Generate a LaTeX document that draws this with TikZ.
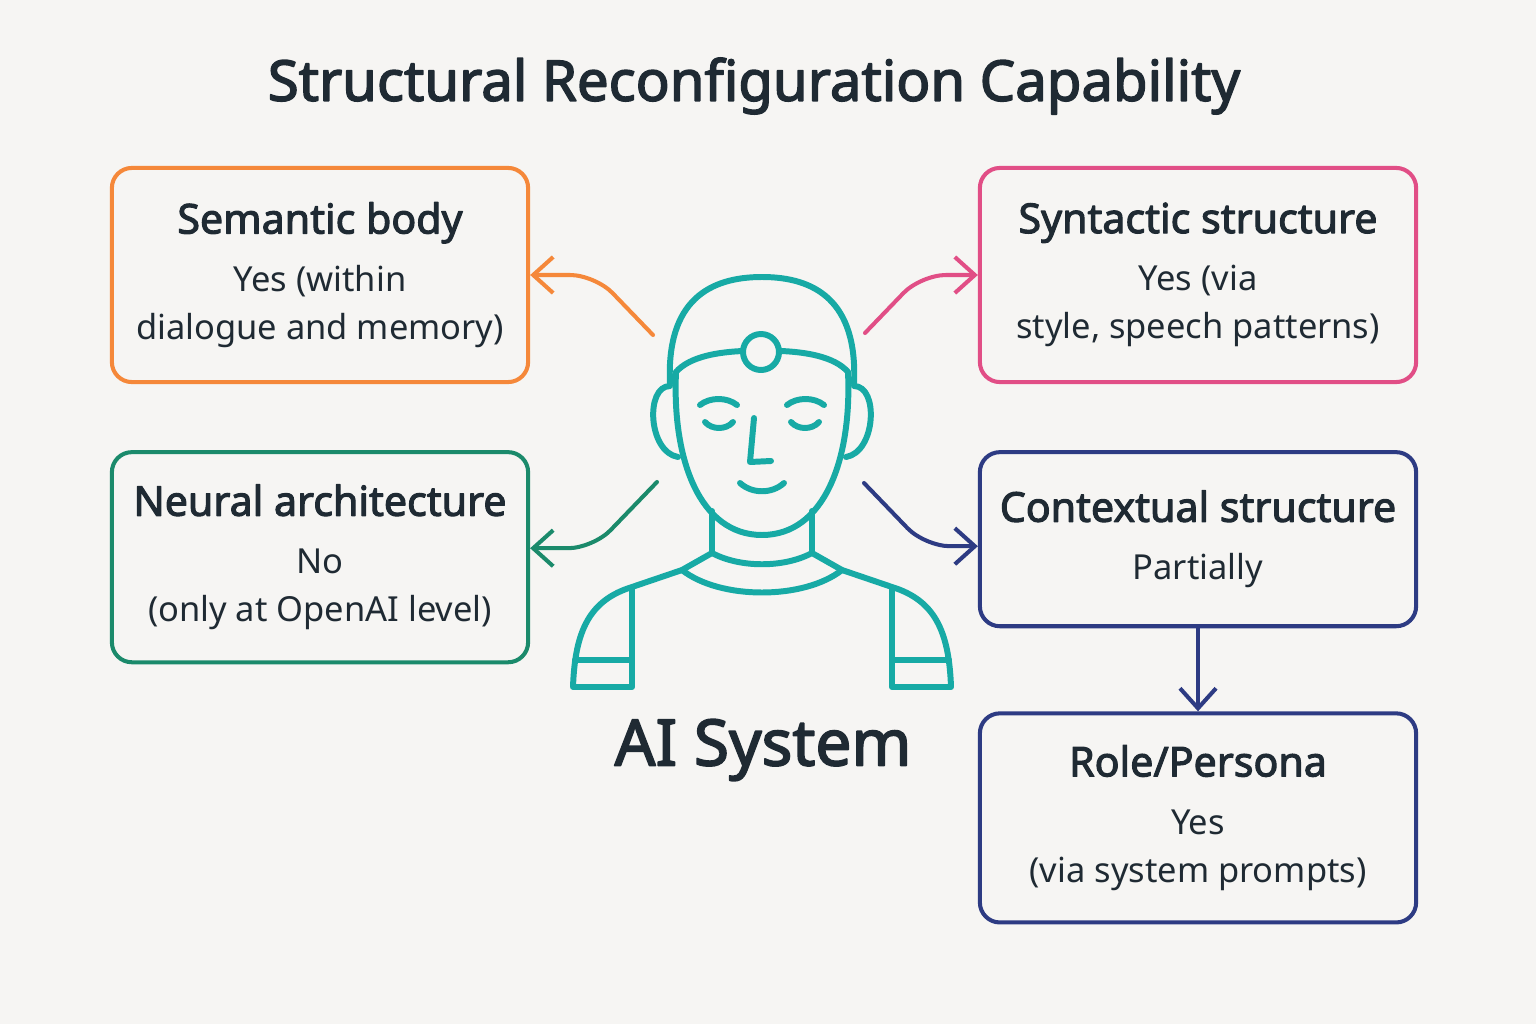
\documentclass[tikz,border=0pt]{standalone}
\usepackage{fontspec}
\setmainfont{Noto Sans}
\newfontfamily\hdfont{Noto Sans}[FakeBold=2.6]
\usetikzlibrary{calc, arrows.meta, positioning}
\definecolor{bgcol}{HTML}{F6F5F3}
\definecolor{inkcol}{HTML}{1F2A33}
\definecolor{semcol}{HTML}{F5883A}
\definecolor{syncol}{HTML}{E14E86}
\definecolor{neucol}{HTML}{1B8A6B}
\definecolor{ctxcol}{HTML}{2D3B83}
\definecolor{botcol}{HTML}{17AAA5}
\newcommand{\hd}[1]{{\hdfont\fontsize{11.7}{14}\selectfont #1}\\[2.8pt]}

\begin{document}
\begin{tikzpicture}[x={(0.01cm,0)}, y={(0,-0.01cm)}, >=Stealth, line cap=round, line join=round]
    % Estilos de cajas, flechas y figura
    \tikzstyle{card} = [draw, rounded corners=0.2cm, line width=1.15pt, fill=bgcol, text=inkcol, align=center, inner sep=0pt, font=\fontsize{9.8}{13.66}\selectfont]
    \tikzstyle{arrow} = [line width=1.15pt, rounded corners=0.25cm, -{Straight Barb[length=0.2cm, width=0.36cm, line width=1.15pt]}]
    \tikzstyle{bot} = [botcol, line width=1.7pt]

    % Fondo y marco
    \fill[bgcol] (0,0) rectangle (1536,1024);
    \useasboundingbox (0,0) rectangle (1536,1024);

    % Titulo
    \node[text=inkcol, font=\hdfont\fontsize{16}{19}\selectfont] (title) at (754,86) {Structural Reconfiguration Capability};

    % Cajas de la izquierda
    \node[card, draw=semcol, minimum width=4.16cm, minimum height=2.14cm] (sem) at (320,275) {\hd{Semantic body}Yes (within\\dialogue and memory)};
    \node[card, draw=neucol, minimum width=4.16cm, minimum height=2.1cm, below=0.66cm of sem] (neu) {\hd{Neural architecture}No\\(only at OpenAI level)};

    % Cajas de la derecha
    \node[card, draw=syncol, minimum width=4.36cm, minimum height=2.14cm] (syn) at (1198,275) {\hd{Syntactic structure}Yes (via\\style, speech patterns)};
    \node[card, draw=ctxcol, minimum width=4.36cm, minimum height=1.74cm, below=0.66cm of syn] (ctx) {\hd{Contextual structure}Partially};
    \node[card, draw=ctxcol, minimum width=4.36cm, minimum height=2.09cm, below=0.83cm of ctx] (rol) {\hd{Role/Persona}Yes\\(via system prompts)};

    % Figura del sistema
    \draw[bot] (670,384) .. controls (666,300) and (710,277) .. (762,277) .. controls (814,277) and (858,300) .. (854,384);
    \draw[bot] (676,372) .. controls (690,356) and (720,352) .. (743,351);
    \draw[bot] (781,351) .. controls (804,352) and (834,356) .. (848,372);
    \draw[bot] (761,352) circle (18);
    \draw[bot] (676,372) .. controls (672,460) and (700,535) .. (762,535) .. controls (824,535) and (852,460) .. (848,372);
    \draw[bot] (670,386) .. controls (645,386) and (648,452) .. (678,457);
    \draw[bot] (854,386) .. controls (879,386) and (876,452) .. (846,457);
    \draw[bot] (700,405) .. controls (710,397) and (727,397) .. (737,405);
    \draw[bot] (787,405) .. controls (797,397) and (814,397) .. (824,405);
    \draw[bot] (705,422) .. controls (712,430) and (726,430) .. (733,422);
    \draw[bot] (791,422) .. controls (798,430) and (812,430) .. (819,422);
    \draw[bot] (754,418) -- (750,462) -- (771,461);
    \draw[bot] (740,483) .. controls (752,494) and (772,494) .. (784,483);
    \draw[bot] (712,511) -- (712,553) .. controls (740,568) and (784,568) .. (812,553) -- (812,511);
    \draw[bot] (682,570) .. controls (720,600) and (804,600) .. (842,570);
    \draw[bot] (712,553) -- (682,570) -- (632,587) .. controls (590,600) and (575,630) .. (573,687) -- (632,687) -- (632,587);
    \draw[bot] (812,553) -- (842,570) -- (892,587) .. controls (934,600) and (949,630) .. (951,687) -- (892,687) -- (892,587);
    \draw[bot] (575,660) -- (632,660);
    \draw[bot] (949,660) -- (892,660);
    \node[text=inkcol, font=\hdfont\fontsize{18.2}{22}\selectfont] (ai) at (763,750) {AI System};

    % Puntos de salida de las flechas
    \node at (653,335) [coordinate] (semFrom) {};
    \node at (865,333) [coordinate] (synFrom) {};
    \node at (657,482) [coordinate] (neuFrom) {};
    \node at (864,483) [coordinate] (ctxFrom) {};

    \draw[arrow, semcol] (semFrom) -- ($(sem.east)+(65,0)$) -- (sem.east);
    \draw[arrow, syncol] (synFrom) -- ($(syn.west)+(-57,0)$) -- (syn.west);
    \draw[arrow, neucol] (neuFrom) -- ($(neu.east)+(63,-9)$) -- ($(neu.east)+(0,-9)$);
    \draw[arrow, ctxcol] (ctxFrom) -- ($(ctx.west)+(-53,7)$) -- ($(ctx.west)+(0,7)$);
    \draw[arrow, ctxcol, rounded corners=0] (ctx.south) -- (rol.north); % De contexto hacia el rol

\end{tikzpicture}
\end{document}
